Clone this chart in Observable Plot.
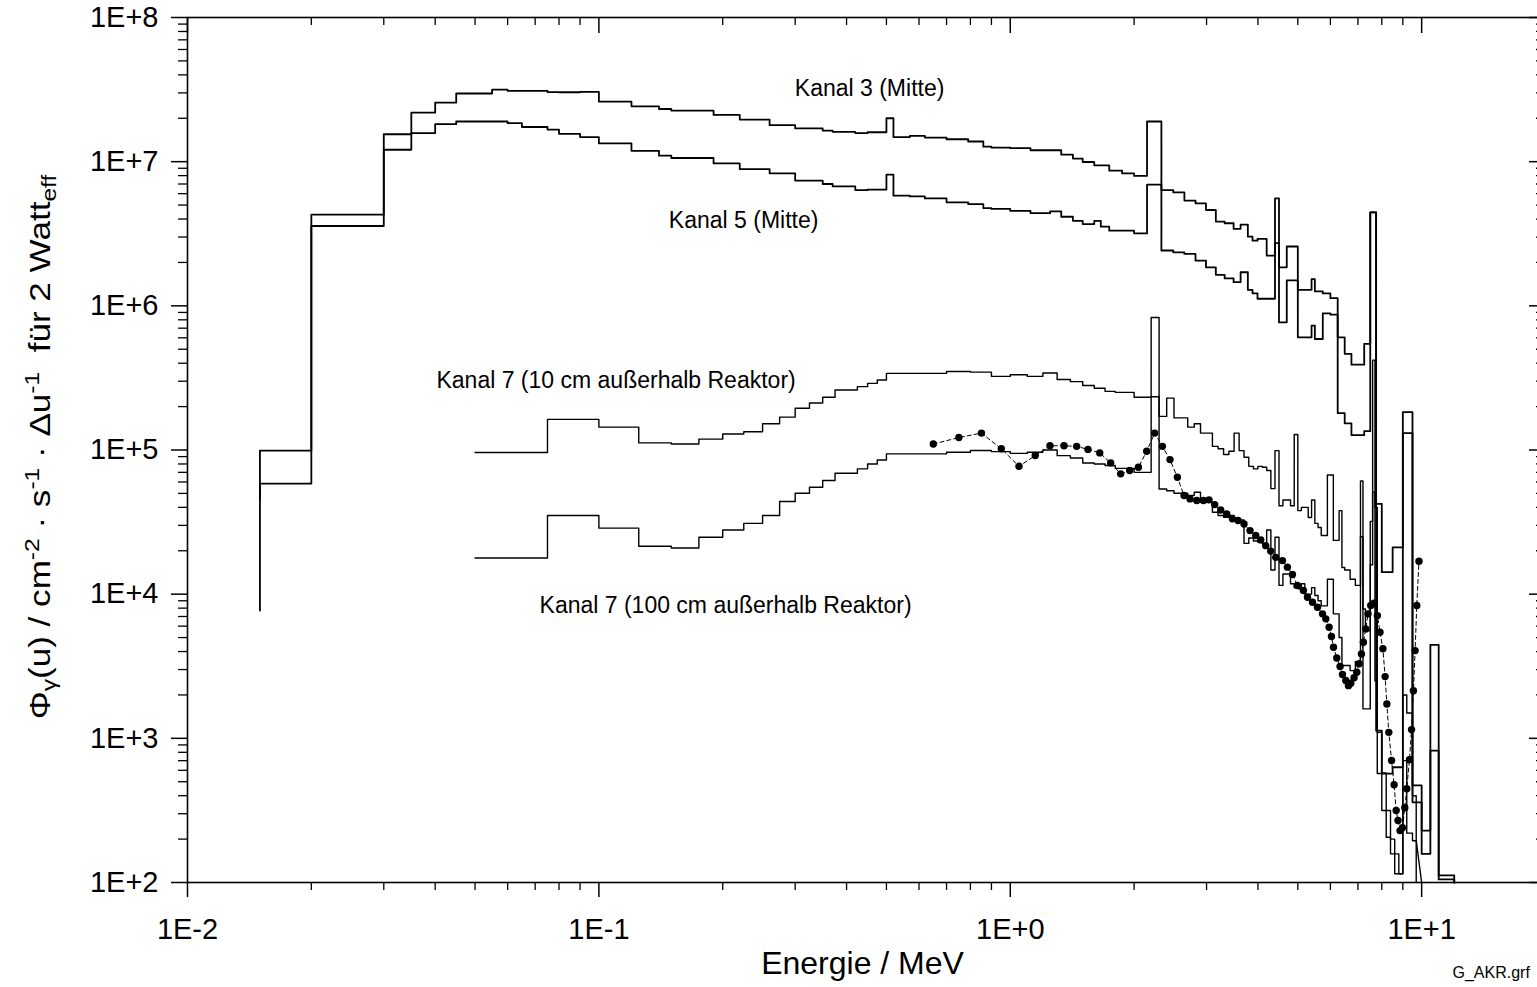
<!DOCTYPE html>
<html>
<head>
<meta charset="utf-8">
<script src="https://cdn.jsdelivr.net/npm/d3@7"></script>
<script src="https://cdn.jsdelivr.net/npm/@observablehq/plot@0.6"></script>
<style>
  html, body { margin: 0; padding: 0; background: #fff; overflow: hidden; }
  #chart { width: 1537px; height: 987px; overflow: hidden; position: relative; }
  #chart svg { display: block; max-width: none !important; }
</style>
</head>
<body>
<div id="chart"></div>
<script>
// Gamma flux spectra Φγ(u) per lethargy interval, AKR training reactor (2 W eff)

// Bin edges (MeV) of the central-channel spectra (Kanal 3 and Kanal 5)
const edgesMitte = [0.015, 0.02, 0.03, 0.035, 0.04, 0.045, 0.055, 0.06, 0.065, 0.075,
  0.08, 0.09, 0.1, 0.12, 0.14, 0.15, 0.19, 0.22, 0.26, 0.30,
  0.35, 0.37, 0.42, 0.45, 0.50, 0.52, 0.57, 0.62, 0.70, 0.79,
  0.86, 0.90, 1.0, 1.12, 1.25, 1.33, 1.42, 1.50, 1.60, 1.66,
  1.74, 1.87, 2.0, 2.15, 2.33, 2.49, 2.65, 2.82, 2.99, 3.16,
  3.32, 3.49, 3.63, 3.78, 3.88, 3.99, 4.2, 4.4, 4.5, 4.7,
  5.0, 5.4, 5.5, 5.75, 6.0, 6.25, 6.5, 6.75, 7.25, 7.5,
  7.75, 8.0, 8.5, 9.0, 9.5, 10.0, 10.5, 11.0, 12.0];

// Kanal 3 (Mitte), one value per bin
const kanal3 = [9.9e4, 4.29e6, 1.55e7, 2.19e7, 2.57e7, 2.97e7, 3.16e7, 3.10e7, 3.10e7, 3.04e7,
  3.03e7, 3.05e7, 2.61e7, 2.42e7, 2.32e7, 2.26e7, 2.11e7, 1.96e7, 1.79e7, 1.70e7,
  1.64e7, 1.61e7, 1.58e7, 1.60e7, 2.0e7, 1.48e7, 1.51e7, 1.47e7, 1.43e7, 1.38e7,
  1.27e7, 1.25e7, 1.24e7, 1.20e7, 1.20e7, 1.12e7, 1.05e7, 9.95e6, 9.42e6, 9.42e6,
  8.67e6, 8.30e6, 7.96e6, 1.90e7, 6.35e6, 6.12e6, 5.37e6, 5.14e6, 4.62e6, 3.84e6,
  3.74e6, 3.42e6, 3.66e6, 3.02e6, 2.83e6, 2.91e6, 2.23e6, 5.56e6, 1.85e6, 2.58e6,
  1.29e6, 1.53e6, 1.26e6, 1.22e6, 1.13e6, 6.05e5, 4.65e5, 3.91e5, 5.45e5, 4.45e6,
  4.23e4, 1.42e4, 2.11e4, 1.83e5, 471, 229, 4.45e3, 112];
const kanal3Start = 7.7e3;

// Kanal 5 (Mitte), one value per bin
const kanal5 = [5.85e4, 3.58e6, 1.21e7, 1.58e7, 1.82e7, 1.90e7, 1.90e7, 1.85e7, 1.74e7, 1.67e7,
  1.56e7, 1.48e7, 1.34e7, 1.19e7, 1.10e7, 1.06e7, 9.73e6, 8.89e6, 8.30e6, 7.38e6,
  7.00e6, 6.75e6, 6.35e6, 6.40e6, 8.13e6, 5.81e6, 5.74e6, 5.56e6, 5.22e6, 5.08e6,
  4.76e6, 4.70e6, 4.55e6, 4.39e6, 4.52e6, 4.15e6, 3.89e6, 3.69e6, 3.89e6, 3.54e6,
  3.32e6, 3.32e6, 3.18e6, 6.93e6, 2.42e6, 2.35e6, 2.29e6, 2.06e6, 1.85e6, 1.64e6,
  1.55e6, 1.46e6, 1.71e6, 1.29e6, 1.22e6, 1.12e6, 1.12e6, 2.72e6, 7.69e5, 1.50e6,
  6.05e5, 7.29e5, 5.89e5, 8.87e5, 8.69e5, 1.80e5, 1.53e5, 1.27e5, 1.35e5, 4.45e6,
  1.13e3, 570, 630, 1.31e5, 360, 158, 822, 105];
const kanal5Start = 4.6e4;

// Bin edges (MeV) of the spectra outside the reactor (Kanal 7)
const edgesK7 = [0.05, 0.075, 0.1, 0.125, 0.15, 0.175, 0.2, 0.225, 0.25, 0.275,
  0.3, 0.325, 0.35, 0.375, 0.425, 0.45, 0.475,
  0.5, 0.6, 0.7, 0.8, 0.9,
  1.0, 1.1, 1.2, 1.3, 1.4, 1.5, 1.6, 1.7, 1.8, 1.9,
  2.0, 2.1, 2.2, 2.3, 2.4, 2.5, 2.6, 2.7, 2.8, 2.9,
  3.0, 3.1, 3.2, 3.3, 3.4, 3.5, 3.6, 3.7, 3.8, 3.9,
  4.0, 4.1, 4.2, 4.3, 4.4, 4.5, 4.6, 4.7, 4.8, 4.9,
  5.0, 5.1, 5.2, 5.3, 5.4, 5.5, 5.6, 5.7, 5.8, 5.9,
  6.0, 6.1, 6.2, 6.3, 6.4, 6.5, 6.6, 6.7, 6.8, 6.9,
  7.0, 7.1, 7.2, 7.3, 7.4, 7.5, 7.6, 7.7, 7.8, 7.9,
  8.0, 8.1, 8.2, 8.3, 8.4, 8.5, 8.6, 8.7, 8.8, 8.9,
  9.0, 9.1, 9.2, 9.3, 9.4, 9.5, 9.6, 9.7];

// Kanal 7, 10 cm outside the reactor
const kanal7_10 = [9.6e4, 1.63e5, 1.44e5, 1.12e5, 1.10e5, 1.19e5, 1.29e5, 1.34e5, 1.52e5, 1.69e5,
  1.95e5, 2.12e5, 2.32e5, 2.61e5, 2.75e5, 2.90e5, 3.06e5,
  3.40e5, 3.40e5, 3.50e5, 3.47e5, 3.24e5,
  3.33e5, 3.24e5, 3.42e5, 3.08e5, 2.98e5, 2.80e5, 2.68e5, 2.55e5, 2.51e5, 2.51e5,
  2.32e5, 2.32e5, 8.3e5, 1.71e5, 2.29e5, 1.67e5, 1.67e5, 1.44e5, 1.52e5, 1.31e5,
  1.31e5, 1.06e5, 1.02e5, 9.3e4, 9.8e4, 1.31e5, 9.9e4, 8.9e4, 7.7e4, 7.4e4,
  7.7e4, 7.6e4, 7.2e4, 5.4e4, 9.9e4, 4.1e4, 4.5e4, 4.5e4, 4.1e4, 1.28e5,
  3.8e4, 4.0e4, 4.0e4, 3.4e4, 4.5e4, 3.1e4, 2.9e4, 2.55e4, 2.55e4, 6.7e4,
  6.7e4, 2.36e4, 2.36e4, 3.8e4, 1.53e4, 1.47e4, 1.47e4, 1.27e4, 1.27e4, 1.15e4,
  1.15e4, 6.1e4, 7.9e3, 5.6e3, 5.6e3, 3.2e4, 4.2e5, 4.0e4, 1.1e3, 1.1e3,
  575, 575, 316, 316, 200, 200, 158, 158, 115, 115,
  2.0e3, 2.0e3, 1.5e3, 1.5e3, 1.5e3, 400, 400];

// Kanal 7, 100 cm outside the reactor
const kanal7_100 = [1.78e4, 3.51e4, 2.87e4, 2.15e4, 2.09e4, 2.48e4, 2.79e4, 3.10e4, 3.51e4, 4.39e4,
  5.01e4, 5.51e4, 6.14e4, 6.89e4, 7.40e4, 8.0e4, 8.53e4,
  9.40e4, 9.40e4, 9.64e4, 9.91e4, 9.75e4,
  9.48e4, 9.64e4, 1.0e5, 9.14e4, 8.81e4, 8.13e4, 8.0e4, 7.80e4, 7.46e4, 7.46e4,
  7.0e4, 7.0e4, 2.34e5, 5.37e4, 5.22e4, 5.01e4, 5.01e4, 4.83e4, 5.09e4, 4.34e4,
  4.34e4, 3.70e4, 3.51e4, 3.42e4, 3.51e4, 3.33e4, 3.27e4, 2.25e4, 2.45e4, 2.34e4,
  2.29e4, 2.24e4, 2.79e4, 1.47e4, 2.48e4, 1.15e4, 1.38e4, 1.38e4, 1.18e4, 1.11e4,
  1.09e4, 1.18e4, 1.0e4, 1.0e4, 1.11e4, 9.8e3, 9.0e3, 8.3e3, 8.3e3, 1.27e4,
  1.27e4, 7.3e3, 7.3e3, 5.0e3, 3.2e3, 3.2e3, 3.2e3, 2.95e3, 2.95e3, 3.4e3,
  3.4e3, 2.5e4, 1.6e3, 1.6e3, 1.6e3, 1.6e4, 5.1e4, 2.5e3, 570, 570,
  316, 316, 206, 206, 158, 158, 115, 115, 115, 115,
  700, 700, 220, 220, 220, 195, 195];
const kanal7_100End = [10.0, 100];

// Measured points (energy in MeV, flux)
const messE = [0.650, 0.750, 0.851, 0.951, 1.05, 1.15, 1.249, 1.351, 1.45, 1.545,
  1.65, 1.754, 1.855, 1.951, 2.049, 2.146, 2.244, 2.343, 2.445, 2.548,
  2.645, 2.735, 2.840, 2.948, 3.042, 3.140, 3.247, 3.358, 3.467, 3.578,
  3.700, 3.827, 3.951, 4.063, 4.178, 4.296, 4.419, 4.588, 4.717, 4.852,
  4.989, 5.159, 5.277, 5.428, 5.581, 5.740, 5.848, 5.956, 6.036, 6.105,
  6.218, 6.334, 6.419, 6.540, 6.638, 6.725, 6.850, 6.954, 7.044, 7.139,
  7.219, 7.313, 7.408, 7.520, 7.661, 7.806, 7.92, 8.05, 8.15, 8.23,
  8.32, 8.45, 8.57, 8.67, 8.76, 8.86, 8.98, 9.10, 9.20, 9.34,
  9.45, 9.55, 9.64, 9.73, 9.85];
const messPhi = [1.10e5, 1.22e5, 1.31e5, 1.02e5, 7.71e4, 9.15e4, 1.07e5, 1.07e5, 1.06e5, 1.01e5,
  9.55e4, 8.14e4, 6.83e4, 7.2e4, 7.59e4, 9.8e4, 1.31e5, 1.06e5, 8.58e4, 6.47e4,
  4.83e4, 4.58e4, 4.46e4, 4.46e4, 4.51e4, 4.18e4, 3.84e4, 3.6e4, 3.33e4, 3.24e4,
  3.07e4, 2.76e4, 2.55e4, 2.38e4, 2.17e4, 1.99e4, 1.80e4, 1.71e4, 1.54e4, 1.37e4,
  1.15e4, 1.06e4, 9.52e3, 8.79e3, 8.11e3, 7.3e3, 6.74e3, 5.89e3, 5.08e3, 4.28e3,
  3.61e3, 3.15e3, 2.77e3, 2.52e3, 2.32e3, 2.41e3, 2.63e3, 2.87e3, 3.29e3, 3.85e3,
  4.64e3, 5.74e3, 7.3e3, 8.34e3, 8.65e3, 7.1e3, 5.44e3, 4.18e3, 2.68e3, 1.73e3,
  1.10e3, 702, 476, 316, 269, 229, 240, 330, 447, 710,
  1.15e3, 2.14e3, 4.06e3, 8.34e3, 1.69e4];

// Axis ticks and labels
const yTicks = [1e2, 1e3, 1e4, 1e5, 1e6, 1e7, 1e8];
const yTickLabels = ["1E+2", "1E+3", "1E+4", "1E+5", "1E+6", "1E+7", "1E+8"];
const xTicks = [0.01, 0.1, 1, 10];
const xTickLabels = ["1E-2", "1E-1", "1E+0", "1E+1"];
const minorFactors = [2, 3, 4, 5, 6, 7, 8, 9];

// Curve annotations (centre position in data units)
const curveLabels = [
  {text: "Kanal 3 (Mitte)", E: 0.455, phi: 3.2e7},
  {text: "Kanal 5 (Mitte)", E: 0.2248, phi: 3.9e6},
  {text: "Kanal 7 (10 cm außerhalb Reaktor)", E: 0.1101, phi: 3.03e5},
  {text: "Kanal 7 (100 cm außerhalb Reaktor)", E: 0.2032, phi: 8.34e3}
];
const xTitle = "Energie / MeV";
const sourceNote = "G_AKR.grf";
// y title pieces: [text, shift] with shift 1 = subscript, -1 = superscript
const yTitleParts = [["Φ", 0], ["γ", 1], ["(u) / cm", 0], ["-2", -1], [" · s", 0], ["-1", -1],
  [" · Δu", 0], ["-1", -1], ["  für 2 Watt", 0], ["eff", 1]];

// Turn bin edges + bin values into the vertices of a histogram outline
function histogram(edges, values, start, end) {
  const pts = [];
  if (start != null) pts.push({E: edges[0], phi: start});
  values.forEach((v, i) => {
    pts.push({E: edges[i], phi: v});
    pts.push({E: edges[i + 1], phi: v});
  });
  if (end != null) pts.push({E: end[0], phi: end[1]});
  return pts;
}

const k3 = histogram(edgesMitte, kanal3, kanal3Start, [edgesMitte[edgesMitte.length - 1], 100]);
const k5 = histogram(edgesMitte, kanal5, kanal5Start, [edgesMitte[edgesMitte.length - 1], 100]);
const k7a = histogram(edgesK7, kanal7_10, null, [edgesK7[edgesK7.length - 1], 100]);
const k7b = histogram(edgesK7, kanal7_100, null, kanal7_100End);
const mess = messE.map((E, i) => ({E, phi: messPhi[i]}));

const yMinor = yTicks.slice(0, -1).flatMap(d => minorFactors.map(f => d * f));
const xMinor = xTicks.flatMap(d => minorFactors.map(f => d * f)).concat([20]).filter(d => d <= 20);

const W = 1560, H = 987;
const mL = 187, mR = 15, mT = 17, mB = 105;
const pw = W - mL - mR, ph = H - mT - mB;

const chart = Plot.plot({
  width: W, height: H,
  marginLeft: mL, marginRight: mR, marginTop: mT, marginBottom: mB,
  x: {type: "log", domain: [0.01, 20]},
  y: {type: "log", domain: [100, 1e8]},
  style: {fontFamily: "'Liberation Sans', Arial, sans-serif", background: "#fff", color: "#000", maxWidth: "none"},
  marks: [
    // left axis: outward ticks
    Plot.axisY({ticks: yTicks, tickSize: 16, tickPadding: 13, strokeWidth: 1.5,
      tickFormat: d => yTickLabels[yTicks.indexOf(d)], fontSize: 29, label: null}),
    Plot.axisY({ticks: yMinor, tickSize: 9, strokeWidth: 1.3, tickFormat: () => "", label: null}),
    // bottom axis: outward ticks
    Plot.axisX({ticks: xTicks, tickSize: 15, tickPadding: 21, strokeWidth: 1.5,
      tickFormat: d => xTickLabels[xTicks.indexOf(d)], fontSize: 29, label: null}),
    Plot.axisX({ticks: xMinor, tickSize: 8, strokeWidth: 1.3, tickFormat: () => "", label: null}),
    // top and right axes: inward ticks
    Plot.ruleX(xTicks, {x: d => d, insetBottom: ph - 16, stroke: "#000", strokeWidth: 1.5}),
    Plot.ruleX(xMinor, {x: d => d, insetBottom: ph - 8, stroke: "#000", strokeWidth: 1.3}),
    Plot.ruleY(yTicks, {y: d => d, insetLeft: pw - 16, stroke: "#000", strokeWidth: 1.5}),
    Plot.ruleY(yMinor, {y: d => d, insetLeft: pw - 9, stroke: "#000", strokeWidth: 1.3}),
    Plot.frame({stroke: "#000", strokeWidth: 1.6}),
    // spectra
    Plot.line(k7b, {x: "E", y: "phi", stroke: "#000", strokeWidth: 1.4}),
    Plot.line(k7a, {x: "E", y: "phi", stroke: "#000", strokeWidth: 1.4}),
    Plot.line(k5, {x: "E", y: "phi", stroke: "#000", strokeWidth: 1.8}),
    Plot.line(k3, {x: "E", y: "phi", stroke: "#000", strokeWidth: 1.8}),
    // measured points
    Plot.line(mess, {x: "E", y: "phi", stroke: "#000", strokeWidth: 1, strokeDasharray: "4,3"}),
    Plot.dot(mess, {x: "E", y: "phi", r: 3.7, fill: "#000", stroke: "none"}),
    // annotations
    Plot.text(curveLabels, {x: "E", y: "phi", text: "text", fontSize: 23, textAnchor: "middle", fill: "#000"}),
    Plot.text([xTitle], {frameAnchor: "bottom", dx: -4, dy: 91, fontSize: 32, fill: "#000"}),
    Plot.text([sourceNote], {frameAnchor: "bottom-left", dx: 1452 - mL, dy: 95, fontSize: 16, textAnchor: "start", fill: "#000"})
  ]
});
chart.style.maxWidth = "none";

// rotated y title with sub- and superscripts
const title = d3.select(chart).append("text")
  .attr("transform", "translate(50,447) rotate(-90) scale(1.17,1)")
  .attr("text-anchor", "middle")
  .attr("font-size", 30)
  .attr("fill", "#000")
  .style("white-space", "pre");
let level = 0;
for (const [s, shift] of yTitleParts) {
  const target = shift === 1 ? 6 : shift === -1 ? -11 : 0;
  title.append("tspan")
    .attr("dy", target - level)
    .attr("font-size", shift === 0 ? 30 : 21)
    .text(s);
  level = target;
}

document.getElementById("chart").appendChild(chart);
</script>
</body>
</html>
